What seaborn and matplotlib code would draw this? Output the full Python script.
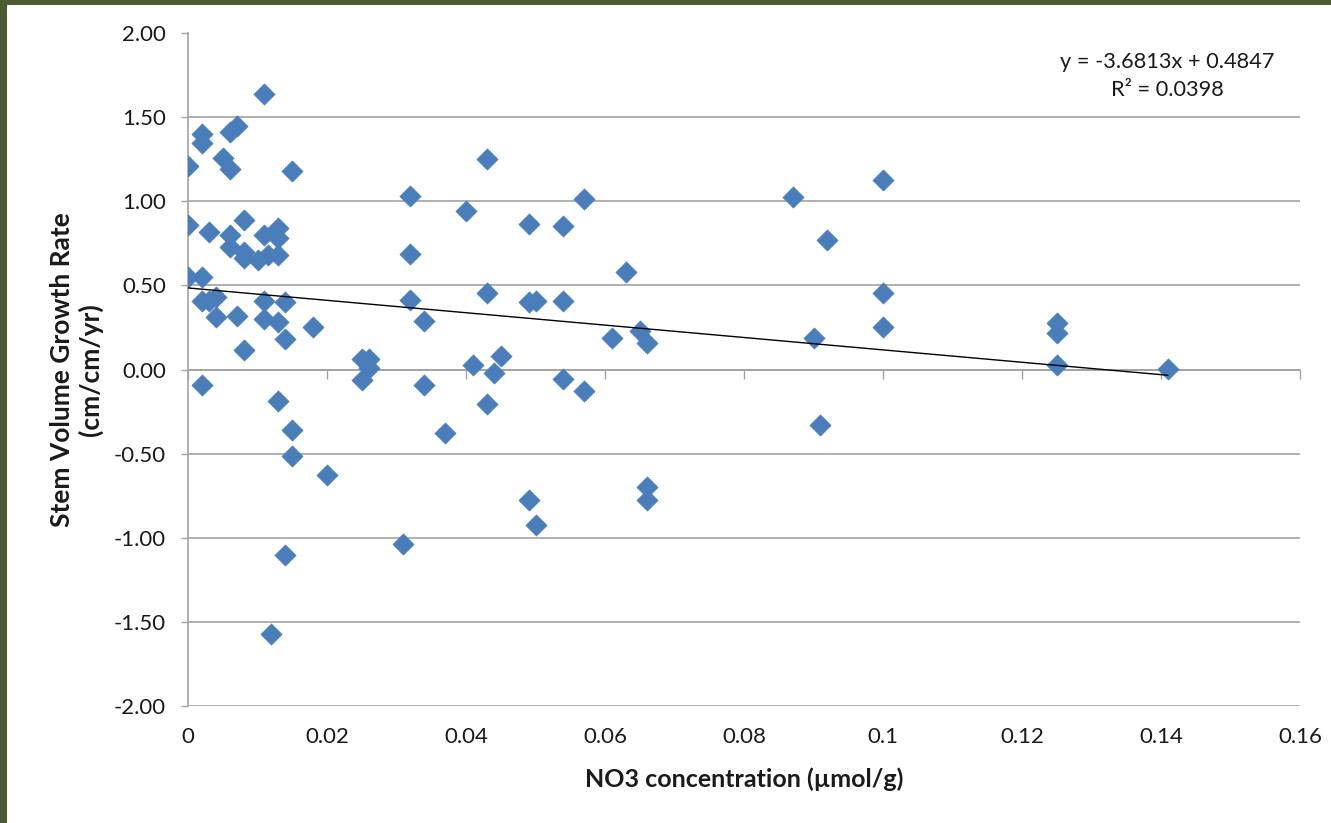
import numpy as np
import pandas as pd
import matplotlib
matplotlib.use("Agg")
import matplotlib.pyplot as plt
from matplotlib.patches import Rectangle
import seaborn as sns

# ---- data ----
no3 = [0.011, 0.002, 0.002, 0.006, 0.007, 0.000, 0.005, 0.006, 0.015,
       0.000, 0.003, 0.008, 0.006, 0.006, 0.011, 0.013, 0.013, 0.008,
       0.008, 0.010, 0.0115, 0.013, 0.000, 0.002, 0.002, 0.003, 0.004,
       0.004, 0.007, 0.011, 0.014, 0.011, 0.013, 0.014, 0.018, 0.008,
       0.002, 0.013, 0.015, 0.015, 0.020, 0.014, 0.012, 0.025, 0.026,
       0.026, 0.025, 0.031, 0.032, 0.032, 0.032, 0.034, 0.034, 0.037,
       0.040, 0.043, 0.043, 0.041, 0.045, 0.044, 0.043, 0.049, 0.049,
       0.050, 0.049, 0.050, 0.054, 0.054, 0.054, 0.057, 0.057, 0.061,
       0.063, 0.065, 0.066, 0.066, 0.066, 0.087, 0.090, 0.091, 0.092,
       0.100, 0.100, 0.100, 0.125, 0.125, 0.125, 0.141]
growth = [1.64, 1.40, 1.345, 1.41, 1.45, 1.21, 1.26, 1.19, 1.18,
          0.86, 0.82, 0.89, 0.80, 0.73, 0.80, 0.84, 0.78, 0.70,
          0.66, 0.65, 0.68, 0.68, 0.55, 0.55, 0.41, 0.41, 0.43,
          0.31, 0.32, 0.41, 0.40, 0.30, 0.28, 0.18, 0.25, 0.115,
          -0.09, -0.19, -0.36, -0.515, -0.63, -1.10, -1.575, 0.065, 0.065,
          0.01, -0.065, -1.035, 1.03, 0.685, 0.415, 0.29, -0.09, -0.38,
          0.94, 1.25, 0.455, 0.025, 0.08, -0.02, -0.205, 0.865, 0.40,
          0.41, -0.775, -0.925, 0.855, 0.41, -0.058, 1.015, -0.13, 0.19,
          0.58, 0.23, 0.16, -0.70, -0.775, 1.025, 0.19, -0.33, 0.77,
          1.125, 0.455, 0.25, 0.275, 0.215, 0.025, 0.005]

trend_slope = -3.6813
trend_intercept = 0.4847
r_squared = 0.0398

x_ticks = [0, 0.02, 0.04, 0.06, 0.08, 0.10, 0.12, 0.14, 0.16]
x_tick_labels = ["0", "0.02", "0.04", "0.06", "0.08", "0.1", "0.12", "0.14", "0.16"]
y_ticks = [-2.0, -1.5, -1.0, -0.5, 0.0, 0.5, 1.0, 1.5, 2.0]
y_tick_labels = ["-2.00", "-1.50", "-1.00", "-0.50", "0.00", "0.50", "1.00", "1.50", "2.00"]

x_label = "NO3 concentration (\u00b5mol/g)"
y_label = "Stem Volume Growth Rate\n(cm/cm/yr)"

# ---- style ----
sns.set_style("white")
plt.rcParams['font.family'] = ['Lato', 'DejaVu Sans']

W, H = 1331, 823
fig = plt.figure(figsize=(W / 100, H / 100), dpi=100)
fig.patch.set_facecolor("white")

L, R, T, B = 188, 1300, 33, 706
ax = fig.add_axes([L / W, 1 - B / H, (R - L) / W, (B - T) / H])

df = pd.DataFrame({"no3": no3, "growth": growth})
marker_color = "#4a7ebb"
sns.scatterplot(data=df, x="no3", y="growth", marker="D", s=118,
                color=marker_color, edgecolor=marker_color, linewidth=0.4,
                ax=ax, zorder=3)

trend = pd.DataFrame({"x": [min(no3), max(no3)]})
trend["y"] = trend_intercept + trend_slope * trend["x"]
sns.lineplot(data=trend, x="x", y="y", color="black", linewidth=1.0,
             ax=ax, zorder=4)

ax.set_xlim(0, 0.16)
ax.set_ylim(-2, 2)

grid_c = "#a3a3a3"
text_c = "#1a1a1a"
tick_fs = 16
label_fs = 18

# horizontal gridlines (none at top)
ax.set_yticks(y_ticks)
ax.set_yticklabels(y_tick_labels, fontsize=tick_fs, color=text_c)
ax.yaxis.grid(True, color=grid_c, linewidth=1.2)
ax.xaxis.grid(False)
gl = ax.yaxis.get_gridlines()
gl[-1].set_visible(False)
ax.set_axisbelow(True)

ax.tick_params(axis="y", direction="out", length=4.8, width=1.0,
               color=grid_c, pad=11, left=True)

# x axis line at y = 0 with tick marks, labels at bottom
for s in ["top", "right"]:
    ax.spines[s].set_visible(False)
ax.spines["left"].set_color(grid_c)
ax.spines["left"].set_linewidth(1.2)
ax.spines["bottom"].set_position(("data", 0))
ax.spines["bottom"].set_color(grid_c)
ax.spines["bottom"].set_linewidth(1.2)
ax.set_xticks(x_ticks)
ax.tick_params(axis="x", direction="out", length=6.5, width=1.0,
               color=grid_c, labelbottom=False, bottom=True)

sec = ax.secondary_xaxis("bottom")
sec.set_xticks(x_ticks)
sec.set_xticklabels(x_tick_labels, fontsize=tick_fs, color=text_c)
sec.tick_params(axis="x", length=0, pad=15)
sec.spines["bottom"].set_visible(False)

ax.set_xlabel(x_label, fontsize=label_fs, fontweight="bold", color=text_c)
ax.xaxis.set_label_coords(0.5, -0.092)
ax.set_ylabel(y_label, fontsize=19, fontweight="bold", color=text_c,
              linespacing=1.2)
ax.yaxis.set_label_coords(-0.076, 0.5)

ax.text(0.881, 0.957, f"y = {trend_slope}x + {trend_intercept}",
        transform=ax.transAxes, ha="center", va="center", fontsize=15.7,
        color=text_c)
ax.text(0.881, 0.915, f"R\u00b2 = {r_squared}",
        transform=ax.transAxes, ha="center", va="center", fontsize=15.7,
        color=text_c)

# dark green slide frame at top and left
frame_c = "#4b5a30"
fig.patches.append(Rectangle((0, 1 - 5 / H), 1, 5 / H, transform=fig.transFigure,
                             facecolor=frame_c, edgecolor="none", zorder=10))
fig.patches.append(Rectangle((0, 0), 7 / W, 1, transform=fig.transFigure,
                             facecolor=frame_c, edgecolor="none", zorder=10))

fig.savefig("out.png", dpi=100, facecolor="white")
